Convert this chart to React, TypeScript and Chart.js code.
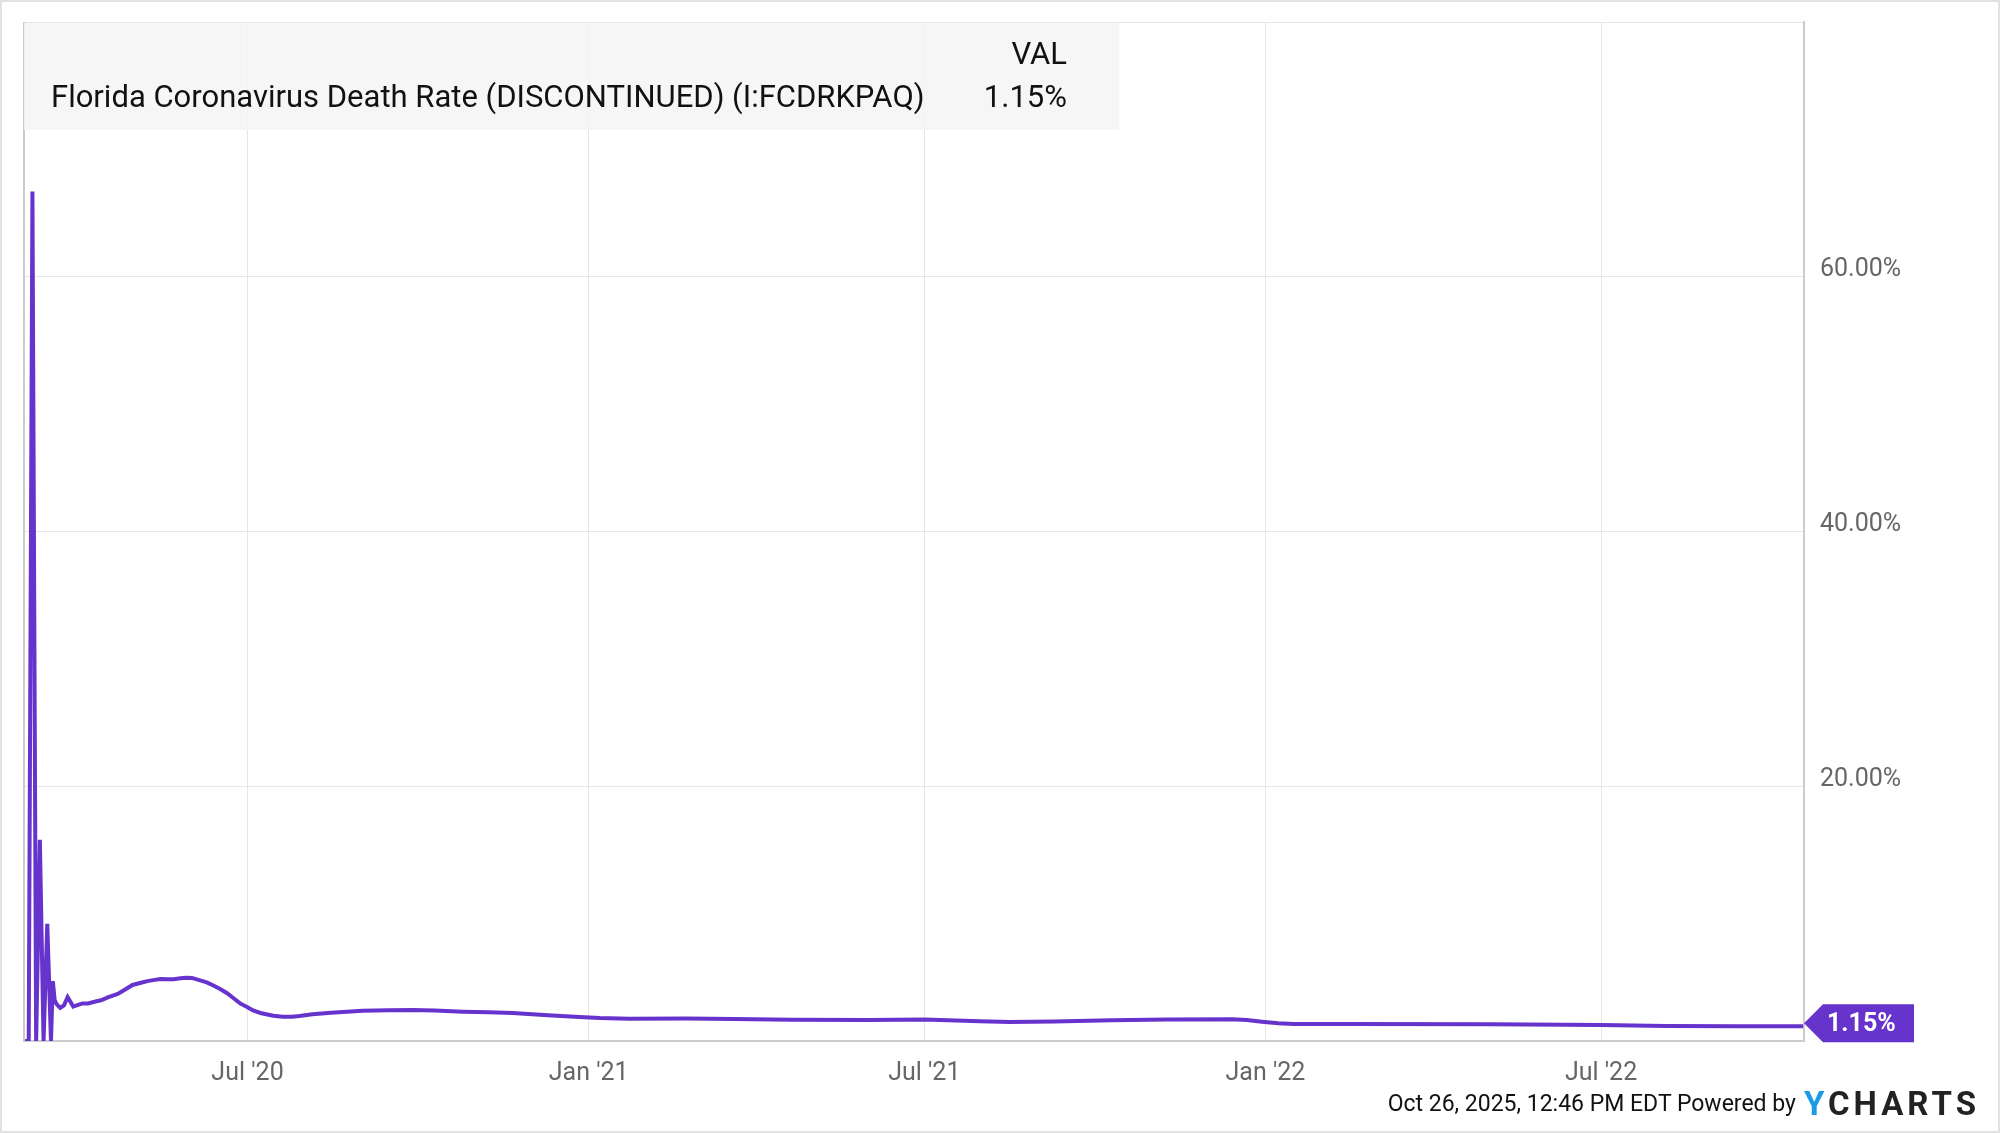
import React, { useEffect, useRef } from "react";
import { Chart, registerables } from "chart.js";

Chart.register(...registerables);

const seriesName = "Florida Coronavirus Death Rate (DISCONTINUED) (I:FCDRKPAQ)";
const lastValueLabel = "1.15%";

const seriesDates = [
  "2020-03-03", "2020-03-05", "2020-03-07", "2020-03-09", "2020-03-11", "2020-03-13",
  "2020-03-15", "2020-03-17", "2020-03-18", "2020-03-19", "2020-03-20", "2020-03-22",
  "2020-03-24", "2020-03-26", "2020-03-27", "2020-03-29", "2020-04-01", "2020-04-03",
  "2020-04-06", "2020-04-10", "2020-04-13", "2020-04-17", "2020-04-22", "2020-04-26",
  "2020-04-30", "2020-05-04", "2020-05-08", "2020-05-12", "2020-05-15", "2020-05-19",
  "2020-05-22", "2020-05-26", "2020-05-29", "2020-06-01", "2020-06-05", "2020-06-09",
  "2020-06-12", "2020-06-16", "2020-06-20", "2020-06-24", "2020-06-27", "2020-07-01",
  "2020-07-04", "2020-07-08", "2020-07-11", "2020-07-15", "2020-07-20", "2020-07-25",
  "2020-07-29", "2020-08-05", "2020-08-15", "2020-09-01", "2020-09-15", "2020-09-28",
  "2020-10-10", "2020-10-25", "2020-11-08", "2020-11-21", "2020-12-10", "2020-12-27",
  "2021-01-07", "2021-01-23", "2021-02-23", "2021-03-20", "2021-04-21", "2021-06-01",
  "2021-07-01", "2021-07-31", "2021-08-16", "2021-09-09", "2021-10-10", "2021-11-09",
  "2021-12-14", "2021-12-22", "2021-12-30", "2022-01-08", "2022-01-16", "2022-02-16",
  "2022-05-02", "2022-07-01", "2022-08-05", "2022-09-15", "2022-10-18",
];

const seriesValues = [
  0, 0, 66.7, 0, 15.8, 0,
  9.2, 0, 4.7, 3.2, 2.9, 2.6,
  2.8, 3.45, 3.2, 2.7, 2.85, 2.95,
  2.95, 3.1, 3.2, 3.45, 3.7, 4.05,
  4.4, 4.55, 4.7, 4.8, 4.86, 4.85,
  4.84, 4.92, 4.96, 4.95, 4.78, 4.6,
  4.4, 4.1, 3.75, 3.3, 2.95, 2.65,
  2.4, 2.2, 2.1, 1.98, 1.9, 1.9,
  1.96, 2.1, 2.22, 2.38, 2.42, 2.43,
  2.4, 2.3, 2.25, 2.2, 2.02, 1.88,
  1.8, 1.75, 1.76, 1.72, 1.66, 1.65,
  1.68, 1.56, 1.5, 1.53, 1.62, 1.69,
  1.7, 1.65, 1.52, 1.4, 1.34, 1.33,
  1.32, 1.25, 1.18, 1.16, 1.15,
];

const xTickDates = ["2020-07-01", "2021-01-01", "2021-07-01", "2022-01-01", "2022-07-01"];
const xTickLabels = ["Jul '20", "Jan '21", "Jul '21", "Jan '22", "Jul '22"];
const xRange = ["2020-03-02", "2022-10-18"];

const yTicks = [0, 20, 40, 60, 80];

const dayNum = (s: string) => {
  const [y, m, d] = s.split("-").map(Number);
  return Date.UTC(y, m - 1, d) / 86400000;
};

const LINE_COLOR = "#6633cc";

const endTagPlugin = {
  id: "endTag",
  afterDraw(chart: any) {
    const meta = chart.getDatasetMeta(0);
    const pts = meta.data;
    if (!pts.length) return;
    const last = pts[pts.length - 1];
    const ctx = chart.ctx;
    const x = chart.chartArea.right;
    const y = last.y - 3;
    ctx.save();
    ctx.fillStyle = LINE_COLOR;
    ctx.beginPath();
    ctx.moveTo(x, y);
    ctx.lineTo(x + 19, y - 19);
    ctx.lineTo(x + 110, y - 19);
    ctx.lineTo(x + 110, y + 19);
    ctx.lineTo(x + 19, y + 19);
    ctx.closePath();
    ctx.fill();
    ctx.fillStyle = "#ffffff";
    ctx.font = "bold 25px Roboto";
    ctx.textAlign = "left";
    ctx.textBaseline = "middle";
    ctx.fillText(lastValueLabel, x + 23, y + 1);
    const a = chart.chartArea;
    ctx.strokeStyle = "#cccccc";
    ctx.lineWidth = 2;
    ctx.beginPath();
    ctx.moveTo(a.left, a.top);
    ctx.lineTo(a.left, a.bottom);
    ctx.stroke();
    ctx.restore();
  },
};

export default function App() {
  const ref = useRef<HTMLCanvasElement | null>(null);

  useEffect(() => {
    document.body.style.margin = "0";
    const canvas = ref.current;
    if (!canvas) return;
    const data = seriesDates.map((d, i) => ({ x: dayNum(d), y: seriesValues[i] }));
    const tickMap: Record<number, string> = {};
    xTickDates.forEach((d, i) => (tickMap[dayNum(d)] = xTickLabels[i]));

    const chart = new Chart(canvas, {
      type: "line",
      data: {
        datasets: [
          {
            label: seriesName,
            data,
            borderColor: LINE_COLOR,
            borderWidth: 4,
            pointRadius: 0,
            tension: 0,
            fill: false,
          },
        ],
      },
      options: {
        animation: false,
        responsive: false,
        devicePixelRatio: 1,
        layout: { padding: { left: 24, top: 22, right: 0, bottom: 0 } },
        plugins: { legend: { display: false }, tooltip: { enabled: false } },
        scales: {
          x: {
            type: "linear",
            min: dayNum(xRange[0]) + 0.45,
            max: dayNum(xRange[1]) + 0.45,
            afterBuildTicks: (scale: any) => {
              scale.ticks = xTickDates.map((d) => ({ value: dayNum(d) }));
            },
            afterFit: (scale: any) => {
              scale.height = 92;
              scale.paddingLeft = 0;
              scale.paddingRight = 0;
            },
            ticks: {
              autoSkip: false,
              maxRotation: 0,
              padding: 18,
              color: "#666666",
              font: { family: "Roboto", size: 25 },
              callback: (v: any) => tickMap[v] ?? "",
            },
            grid: { color: "#e6e6e6", lineWidth: 1, drawTicks: false },
            border: { color: "#cccccc", width: 2 },
          },
          y: {
            position: "right",
            min: 0,
            max: 80,
            afterBuildTicks: (scale: any) => {
              scale.ticks = yTicks.map((v) => ({ value: v }));
            },
            afterFit: (scale: any) => {
              scale.width = 196;
              scale.paddingTop = 0;
              scale.paddingBottom = 0;
            },
            ticks: {
              padding: 16,
              labelOffset: -7,
              color: "#666666",
              font: { family: "Roboto", size: 25 },
              callback: (v: any) => (v === 0 || v === 80 ? "" : Number(v).toFixed(2) + "%"),
            },
            grid: { color: "#e6e6e6", lineWidth: 1, drawTicks: false },
            border: { color: "#cccccc", width: 2 },
          },
        },
      },
      plugins: [endTagPlugin],
    });
    return () => chart.destroy();
  }, []);

  return (
    <div
      style={{
        position: "relative",
        width: 2000,
        height: 1133,
        background: "#ffffff",
        fontFamily: "Roboto",
        overflow: "hidden",
      }}
    >
      <canvas ref={ref} width={2000} height={1133} style={{ position: "absolute", left: 0, top: 0, width: 2000, height: 1133 }} />
      <div
        style={{
          position: "absolute",
          left: 24,
          top: 23,
          width: 1095,
          height: 107,
          background: "rgba(245,245,245,0.88)",
        }}
      >
        <div style={{ position: "absolute", right: 52, top: 14, fontSize: 31, lineHeight: "34px", color: "#111" }}>VAL</div>
        <div style={{ position: "absolute", left: 27, top: 57, fontSize: 31, lineHeight: "34px", color: "#111", whiteSpace: "nowrap" }}>
          {seriesName}
        </div>
        <div style={{ position: "absolute", right: 52, top: 57, fontSize: 31, lineHeight: "34px", color: "#111" }}>{lastValueLabel}</div>
      </div>
      <div
        style={{
          position: "absolute",
          right: 20,
          top: 1085,
          height: 36,
          display: "flex",
          alignItems: "center",
          whiteSpace: "nowrap",
        }}
      >
        <span style={{ fontSize: 23, color: "#111", marginRight: 8 }}>Oct 26, 2025, 12:46 PM EDT Powered by</span>
        <span style={{ fontSize: 33, fontWeight: 700, letterSpacing: 4, fontFamily: "Roboto" }}>
          <span style={{ color: "#1a9be6" }}>Y</span>
          <span style={{ color: "#222" }}>CHARTS</span>
        </span>
      </div>
      <div
        style={{
          position: "absolute",
          left: 0,
          top: 0,
          width: 2000,
          height: 1133,
          boxSizing: "border-box",
          border: "2px solid #e2e2e2",
          pointerEvents: "none",
        }}
      />
    </div>
  );
}
